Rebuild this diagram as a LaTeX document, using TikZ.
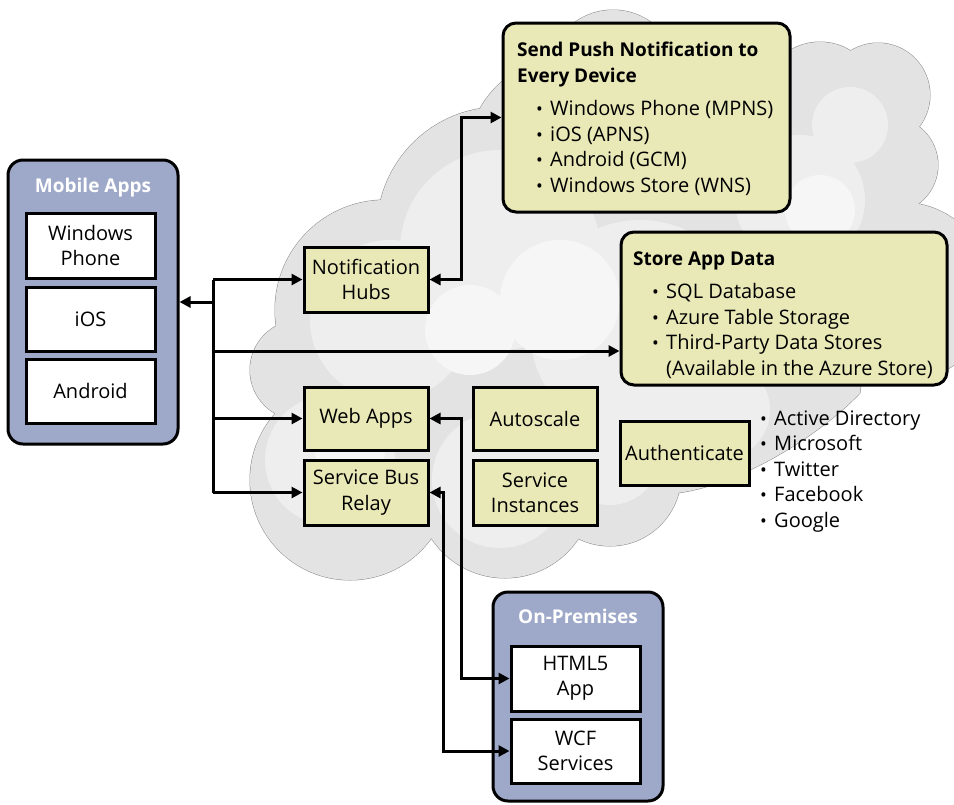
\documentclass[tikz,border=0pt]{standalone}
\usepackage{fontspec}
\setmainfont{Open Sans}
\usetikzlibrary{arrows.meta}
\definecolor{boxfill}{RGB}{233,232,183}
\definecolor{grpfill}{RGB}{158,168,200}
\definecolor{cloudbase}{RGB}{227,227,227}
\definecolor{cloudline}{RGB}{140,140,140}
\definecolor{cloudlight}{RGB}{238,238,238}
\definecolor{cloudwhite}{RGB}{246,246,246}
\newcommand\bul{\makebox[14pt][l]{\raisebox{0pt}{\fontsize{18}{18}\selectfont •}}}
\newcommand\cloudpaths[1]{%
  \foreach \qx/\qy/\qr in {613/75/65, 568/158/101, 500/230/123, 385/310/110, 300/370/50,
      350/480/100, 505/490/88, 610/475/71, 820/100/58, 878/95/52, 890/165/48, 840/170/60,
      830/230/50, 650/250/150, 450/400/120, 780/320/90, 560/420/70}
    {\path[#1] (\qx,\qy) circle[radius=\qr pt];}
  \path[#1] (900,292) ellipse[x radius=92pt, y radius=90pt];
  \path[#1] (677,493) .. controls (740,485) and (820,435) .. (860,393) -- (870,300) -- (640,300) -- (620,430) -- cycle;
}
\begin{document}
\begin{tikzpicture}[x=1pt,y=-1pt,
  every node/.style={font=\fontsize{20}{25.4}\selectfont, text=black},
  box/.style={draw=black, line width=3pt, fill=boxfill, align=center, inner sep=0pt, minimum width=124pt},
  wbox/.style={draw=black, line width=3pt, fill=white, align=center, inner sep=0pt, minimum width=129pt, minimum height=64pt},
  grp/.style={draw=black, line width=3pt, fill=grpfill, rounded corners=15pt, inner sep=0pt},
  bigbox/.style={draw=black, line width=3pt, fill=boxfill, rounded corners=13pt, inner sep=0pt},
  grptitle/.style={anchor=base, text=white, font=\fontsize{19}{24}\selectfont\bfseries, inner sep=0pt},
  ttl/.style={anchor=base west, align=left, inner sep=0pt, font=\fontsize{19}{26}\selectfont\bfseries},
  lst/.style={anchor=base west, align=left, inner sep=0pt},
  conn/.style={line width=3pt, draw=black},
  arr/.style={conn, -{Triangle[length=11pt,width=11pt]}},
  darr/.style={conn, {Triangle[length=11pt,width=11pt]}-{Triangle[length=11pt,width=11pt]}}
]
\useasboundingbox (0,0) rectangle (954,804);
\fill[white] (0,0) rectangle (954,804);
% cloud
\begin{scope}
  \clip (0,0) rectangle (954,804);
  \cloudpaths{draw=cloudline, line width=1pt, fill=cloudbase}
  \cloudpaths{fill=cloudbase}
  \foreach \qx/\qy/\qr in {500/250/100, 390/320/80, 330/460/65, 500/480/68, 610/455/50,
      640/330/110, 800/200/65, 720/410/50, 850/125/38}
    {\fill[cloudlight] (\qx,\qy) circle[radius=\qr pt];}
  \foreach \qx/\qy/\qr in {470/330/45, 820/210/35, 560/300/60, 350/450/35}
    {\fill[cloudwhite] (\qx,\qy) circle[radius=\qr pt];}
\end{scope}

% groups
\node[grp, minimum width=170pt, minimum height=284pt] (mobile) at (93,302) {};
\node[grptitle] (mtitle) at (93,192) {Mobile Apps};
\node[wbox, minimum height=65pt] (winph) at (90.5,245.5) {Windows\\Phone};
\node[wbox] (ios) at (90.5,319) {iOS};
\node[wbox] (android) at (90.5,391) {Android};

\node[grp, minimum width=170pt, minimum height=209pt] (onprem) at (578,696.5) {};
\node[grptitle] (otitle) at (578,623) {On-Premises};
\node[wbox, minimum height=65pt] (html) at (575.5,678.5) {HTML5\\App};
\node[wbox] (wcf) at (575.5,751) {WCF\\Services};

% cloud services
\node[box, minimum height=65pt] (hub) at (366,279.5) {Notification\\Hubs};
\node[box, minimum height=63pt] (web) at (366,418.5) {Web Apps};
\node[box, minimum height=65pt] (sbr) at (366,492.5) {Service Bus\\Relay};
\node[box, minimum height=63pt] (auto) at (535,418.5) {Autoscale};
\node[box, minimum height=65pt] (inst) at (535,492.5) {Service\\Instances};
\node[box, minimum width=129pt, minimum height=64pt] (auth) at (684.5,453) {Authenticate};

\node[bigbox, minimum width=287pt, minimum height=189pt] (push) at (646.5,117.5) {};
\node[ttl] (pushtitle) at (517,82) {Send Push Notification to\\Every Device};
\node[lst] (pushlist) at (536,192) {\bul Windows Phone (MPNS)\\\bul iOS (APNS)\\\bul Android (GCM)\\\bul Windows Store (WNS)};

\node[bigbox, minimum width=326pt, minimum height=153pt] (store) at (784,308.5) {};
\node[ttl] (storetitle) at (633,265) {Store App Data};
\node[lst] (storelist) at (652,375) {\bul SQL Database\\\bul Azure Table Storage\\\bul Third-Party Data Stores\\\hspace*{14pt}(Available in the Azure Store)};

\node[lst] (authlist) at (760,527) {\bul Active Directory\\\bul Microsoft\\\bul Twitter\\\bul Facebook\\\bul Google};

% connectors
\coordinate (jt) at (213,279.5);
\coordinate (jb) at (213,492.5);
\coordinate (jm) at (213,302);
\coordinate (js) at (213,351);
\coordinate (v1) at (461,0);
\coordinate (v3) at (443,0);
\draw[conn] (jt) -- (jb);
\draw[arr] (jm) -- (mobile.east);
\draw[arr] (jt) -- (hub.west);
\draw[arr] (js) -- (js -| store.west);
\draw[arr] (jt |- web.west) -- (web.west);
\draw[arr] (jb) -- (sbr.west);
\draw[darr] (hub.east) -- (hub.east -| v1) |- (push.west);
\draw[darr] (web.east) -- (web.east -| v1) |- (html.west);
\draw[darr] (sbr.east) -- (sbr.east -| v3) |- (wcf.west);
\end{tikzpicture}
\end{document}
